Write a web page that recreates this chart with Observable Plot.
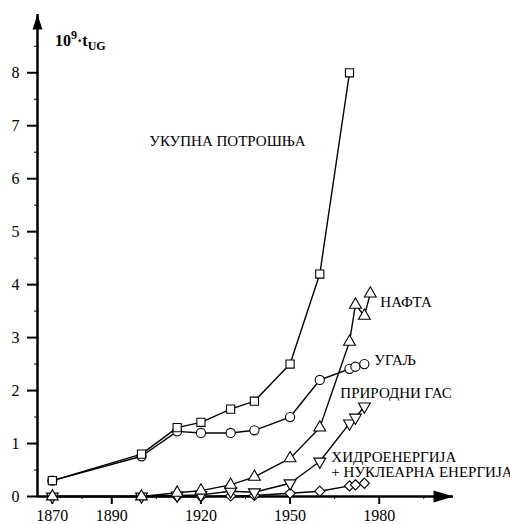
<!DOCTYPE html>
<html>
<head>
<meta charset="utf-8">
<script src="https://cdn.jsdelivr.net/npm/d3@7"></script>
<script src="https://cdn.jsdelivr.net/npm/@observablehq/plot@0.6"></script>
<style>
  html, body { margin: 0; padding: 0; background: white; }
</style>
</head>
<body>
<div id="chart"></div>
<script>
// ---- data ----
const yearsTotal = [1870, 1900, 1912, 1920, 1930, 1938, 1950, 1960, 1970];
const totalValues = [0.3, 0.8, 1.3, 1.4, 1.65, 1.8, 2.5, 4.2, 8.0];

const yearsCoal = [1870, 1900, 1912, 1920, 1930, 1938, 1950, 1960, 1970, 1972, 1975];
const coalValues = [0.3, 0.76, 1.23, 1.2, 1.2, 1.25, 1.5, 2.2, 2.41, 2.45, 2.5];

const yearsOil = [1870, 1900, 1912, 1920, 1930, 1938, 1950, 1960, 1970, 1972, 1975, 1977];
const oilValues = [0, 0, 0.07, 0.11, 0.22, 0.37, 0.72, 1.3, 2.92, 3.62, 3.41, 3.83];

const yearsGas = [1870, 1900, 1912, 1920, 1930, 1938, 1950, 1960, 1970, 1972, 1975];
const gasValues = [0, 0, 0.02, 0.03, 0.1, 0.08, 0.25, 0.66, 1.38, 1.49, 1.7];

const yearsHydro = [1870, 1900, 1912, 1920, 1930, 1938, 1950, 1960, 1970, 1972, 1975];
const hydroValues = [0, 0, 0, 0, 0.01, 0.02, 0.06, 0.1, 0.2, 0.22, 0.25];

const seriesLabels = {
  total: "УКУПНА ПОТРОШЊА",
  oil: "НАФТА",
  coal: "УГАЉ",
  gas: "ПРИРОДНИ ГАС",
  hydro: "ХИДРОЕНЕРГИЈА\n+ НУКЛЕАРНА ЕНЕРГИЈА"
};

const xTicks = [1870, 1890, 1920, 1950, 1980];
const xMinorTicks = [1880, 1905, 1935, 1965, 1995];
const yTicks = [0, 1, 2, 3, 4, 5, 6, 7, 8];
const yMinorTicks = [0.5, 1.5, 2.5, 3.5, 4.5, 5.5, 6.5, 7.5, 8.5];
const xDomain = [1865, 2005];
const yDomain = [0, 9.1];

// ---- build tables ----
const toRows = (years, values) => years.map((year, i) => ({year, value: values[i]}));
const total = toRows(yearsTotal, totalValues);
const coal = toRows(yearsCoal, coalValues);
const oil = toRows(yearsOil, oilValues);
const gas = toRows(yearsGas, gasValues);
const hydro = toRows(yearsHydro, hydroValues);

// ---- custom symbols ----
const triangleDown = {
  draw(context, size) {
    const y = -Math.sqrt(size / (Math.sqrt(3) * 3));
    context.moveTo(0, -y * 2);
    context.lineTo(-Math.sqrt(3) * y, y);
    context.lineTo(Math.sqrt(3) * y, y);
    context.closePath();
  }
};
const arrowUp = {
  draw(context) {
    context.moveTo(0, 0);
    context.lineTo(-5, 15);
    context.lineTo(5, 15);
    context.closePath();
  }
};
const arrowRight = {
  draw(context) {
    context.moveTo(0, 0);
    context.lineTo(-20, -6);
    context.lineTo(-20, 6);
    context.closePath();
  }
};

const lineOpts = {x: "year", y: "value", stroke: "black", strokeWidth: 1.4};
const dotOpts = {x: "year", y: "value", stroke: "black", fill: "white", strokeWidth: 1.1};
const labelOpts = {x: "year", y: "value", fill: "black", fontSize: 15, textAnchor: "start"};

const chart = Plot.plot({
  width: 510,
  height: 524,
  marginLeft: 37,
  marginRight: 57,
  marginTop: 14,
  marginBottom: 28,
  x: {domain: xDomain, label: null},
  y: {domain: yDomain, label: null},
  marks: [
    Plot.axisY({ticks: yTicks, tickSize: 10, tickPadding: 8, strokeWidth: 2, fontSize: 16, fill: "black", label: null, tickFormat: d => String(d)}),
    Plot.axisY({ticks: yMinorTicks, tickSize: 3, text: null, label: null, strokeWidth: 1}),
    Plot.axisX({ticks: xTicks, tickSize: 8, tickPadding: 5, strokeWidth: 2, fontSize: 16, fill: "black", label: null, tickFormat: d => String(d)}),
    Plot.axisX({ticks: xMinorTicks, tickSize: 3, text: null, label: null, strokeWidth: 1}),
    Plot.ruleX([xDomain[0]], {stroke: "black", strokeWidth: 2.5}),
    Plot.ruleY([yDomain[0]], {stroke: "black", strokeWidth: 2.5}),
    Plot.dot([xDomain[0]], {x: d => d, y: () => yDomain[1], symbol: arrowUp, fill: "black", stroke: "none"}),
    Plot.dot([xDomain[1]], {x: d => d, y: () => yDomain[0], symbol: arrowRight, fill: "black", stroke: "none"}),

    Plot.line(hydro, lineOpts),
    Plot.line(gas, lineOpts),
    Plot.line(oil, lineOpts),
    Plot.line(coal, lineOpts),
    Plot.line(total, lineOpts),

    Plot.dot(hydro, {...dotOpts, symbol: "diamond2", r: 4.6}),
    Plot.dot(gas, {...dotOpts, symbol: triangleDown, r: 4.4}),
    Plot.dot(oil, {...dotOpts, symbol: "triangle", r: 4.4}),
    Plot.dot(coal, {...dotOpts, symbol: "circle", r: 4.6}),
    Plot.dot(total, {...dotOpts, symbol: "square", r: 4.6}),

    Plot.text(total, Plot.selectLast({...labelOpts, text: () => seriesLabels.total, textAnchor: "middle", dx: -122, dy: 68})),
    Plot.text(oil, Plot.selectLast({...labelOpts, text: () => seriesLabels.oil, dx: 10, dy: 9})),
    Plot.text(coal, Plot.selectLast({...labelOpts, text: () => seriesLabels.coal, dx: 10, dy: -4})),
    Plot.text(gas, Plot.selectLast({...labelOpts, text: () => seriesLabels.gas, dx: -24, dy: -13})),
    Plot.text(hydro, Plot.selectLast({...labelOpts, text: () => seriesLabels.hydro, dx: -33, dy: -19, lineHeight: 1.0}))
  ]
});

// axis title 10^9·t_UG
const ns = "http://www.w3.org/2000/svg";
const title = document.createElementNS(ns, "text");
title.setAttribute("x", 55);
title.setAttribute("y", 46);
title.setAttribute("text-anchor", "start");
title.setAttribute("font-weight", "bold");
title.setAttribute("font-size", 16);
title.setAttribute("fill", "black");
const parts = [["10", null, null], ["9", -7, 12], ["·t", 7, null], ["UG", 4, 12]];
parts.forEach(([txt, dy, fs]) => {
  const ts = document.createElementNS(ns, "tspan");
  if (dy !== null) ts.setAttribute("dy", dy);
  if (fs !== null) ts.setAttribute("font-size", fs);
  ts.textContent = txt;
  title.appendChild(ts);
});
chart.appendChild(title);

// set the serif face on every text element directly (same way that rendered serif in a test)
chart.removeAttribute("font-family");
chart.querySelectorAll("g").forEach(g => g.removeAttribute("font-family"));
chart.querySelectorAll("text").forEach(t => {
  t.removeAttribute("font-family");
  t.style.fontFamily = "'Liberation Serif', monospace";
});

document.getElementById("chart").appendChild(chart);
</script>
</body>
</html>
